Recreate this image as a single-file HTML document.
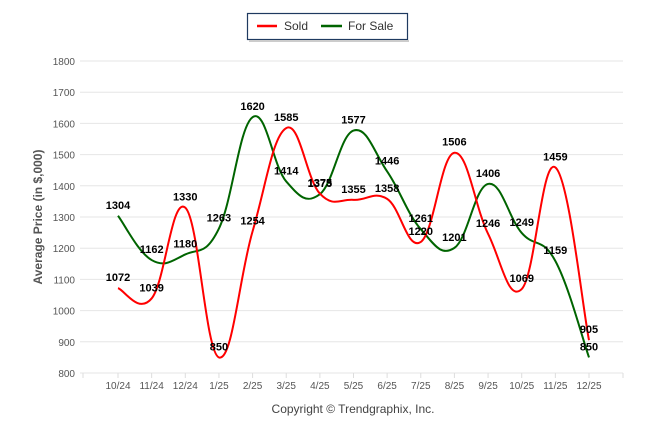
<!DOCTYPE html>
<html><head><meta charset="utf-8"><style>
body{margin:0;background:#fff;font-family:"Liberation Sans",Arial,sans-serif}
svg{display:block}
</style></head><body>
<svg id="chart" width="646" height="434" viewBox="0 0 646 434" xmlns="http://www.w3.org/2000/svg">
<g>
<rect x="247.5" y="13.5" width="160" height="26" fill="#fff" stroke="#1f3a60" stroke-width="1.2"/>
<rect x="249" y="40" width="160" height="2" fill="#ccc"/>
<g><line x1="257" y1="26" x2="277" y2="26" stroke="#ff0000" stroke-width="2.5"/><text x="284" y="30" font-size="12" fill="#333">Sold</text></g>
<g><line x1="321" y1="26" x2="342" y2="26" stroke="#006400" stroke-width="2.5"/><text x="348" y="30" font-size="12" fill="#333">For Sale</text></g>
</g>
<g id="grid"></g>
<g id="series"></g>
<g id="labels"></g>
<text transform="translate(42,217) rotate(-90)" text-anchor="middle" font-size="12" font-weight="bold" fill="#555">Average Price (in $,000)</text>
<text x="353" y="413" text-anchor="middle" font-size="12" fill="#444">Copyright © Trendgraphix, Inc.</text>
</svg>
<script>
const categories=["10/24","11/24","12/24","1/25","2/25","3/25","4/25","5/25","6/25","7/25","8/25","9/25","10/25","11/25","12/25"];
const soldValues=[1072,1039,1330,850,1254,1585,1375,1355,1358,1220,1506,1246,1069,1459,905];
const forSaleValues=[1304,1162,1180,1263,1620,1414,1373,1577,1446,1261,1201,1406,1249,1159,850];
const yTicks=[800,900,1000,1100,1200,1300,1400,1500,1600,1700,1800];
const NS="http://www.w3.org/2000/svg";
const x0=118,x1=589,yMin=800,yMax=1800,yB=373,yT=61,pl=83,pr=623;
const xs=i=>x0+(x1-x0)*i/(categories.length-1);
const ys=v=>yB-(v-yMin)/(yMax-yMin)*(yB-yT);
function mk(tag,attrs,parent){const e=document.createElementNS(NS,tag);for(const k in attrs)e.setAttribute(k,attrs[k]);parent.appendChild(e);return e;}
const grid=document.getElementById('grid');
yTicks.forEach(t=>{
 const l=mk('line',{x1:pl-3,x2:pr,y1:ys(t),y2:ys(t),stroke:'#e6e6e6','stroke-width':1},grid);
 
 
 const tx=mk('text',{x:75,y:ys(t)+4,'text-anchor':'end','font-size':10,fill:'#555'},grid);
 tx.textContent=t;
 
 
});
const tg=[pl];for(let i=0;i<categories.length;i++)tg.push(xs(i));tg.push(pr);
tg.forEach(x=>{mk('line',{x1:x,x2:x,y1:yB,y2:yB+5,stroke:'#ddd'},grid);});
categories.forEach((c,i)=>{
 const t=mk('text',{x:xs(i),y:389,'text-anchor':'middle','font-size':10,fill:'#555'},grid);
 t.textContent=c;
 
 
});
function path(vals){
 const p=vals.map((v,i)=>[xs(i),ys(v)]);
 let d=`M${p[0][0]},${p[0][1]}`;
 for(let i=0;i<p.length-1;i++){
  const a=p[i-1]||p[i],b=p[i],c=p[i+1],e=p[i+2]||p[i+1];
  const k=1/5;
  d+=` C${b[0]+(c[0]-a[0])*k},${b[1]+(c[1]-a[1])*k} ${c[0]-(e[0]-b[0])*k},${c[1]-(e[1]-b[1])*k} ${c[0]},${c[1]}`;
 }
 return d;
}
const sg=document.getElementById('series');
const s1=mk('path',{d:path(forSaleValues),fill:'none',stroke:'#006400','stroke-width':2},sg);


const s2=mk('path',{d:path(soldValues),fill:'none',stroke:'#ff0000','stroke-width':2},sg);


const lg=document.getElementById('labels');
[soldValues,forSaleValues].forEach((vals,si)=>{
 vals.forEach((v,i)=>{
  const t=mk('text',{x:xs(i),y:ys(v)-7,'text-anchor':'middle','font-size':11,'font-weight':'bold',fill:'#000'},lg);
  t.textContent=v;
  
  
 });
});
</script>
</body></html>
